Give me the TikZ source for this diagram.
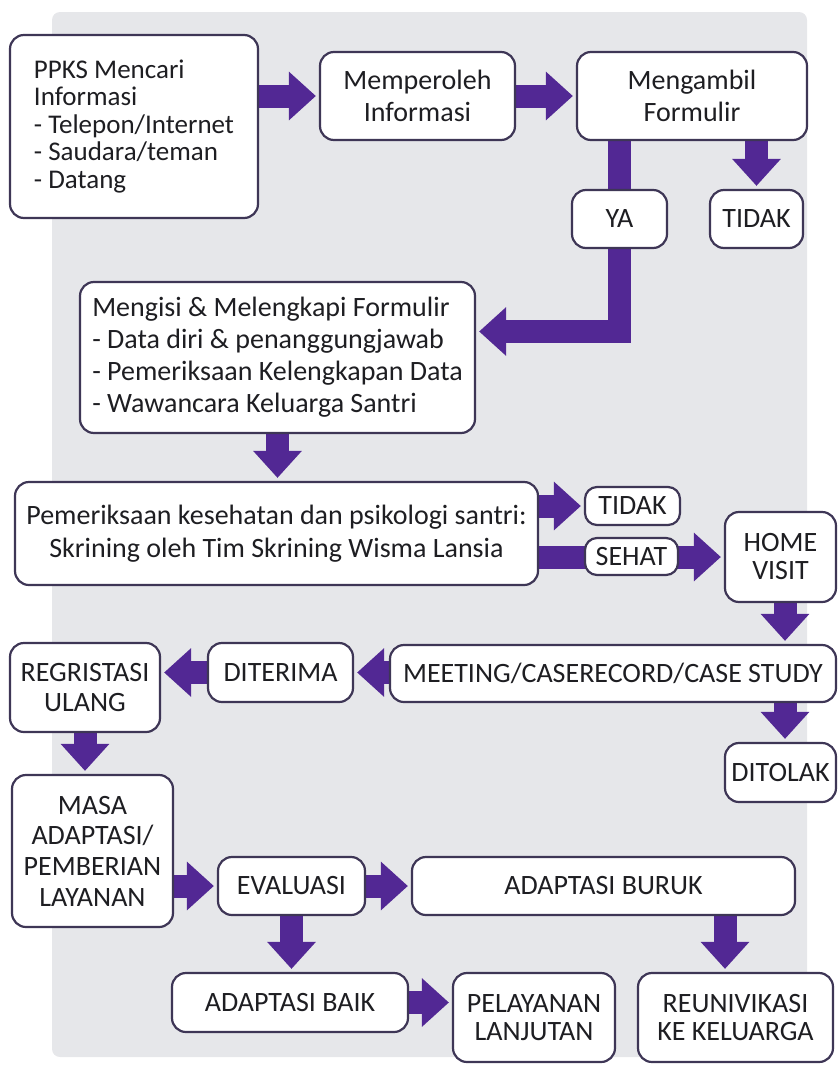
\documentclass[tikz,border=0pt]{standalone}
\usepackage{fontspec}
\setmainfont{Carlito}
\usetikzlibrary{arrows.meta,calc}
\definecolor{bgc}{RGB}{230,231,234}
\definecolor{arr}{RGB}{82,40,148}
\definecolor{boxc}{RGB}{62,54,86}
\definecolor{txt}{RGB}{30,30,34}
\pgfdeclarelayer{back}
\pgfdeclarelayer{arrl}
\pgfsetlayers{back,arrl,main}
\tikzset{
  box/.style={draw=boxc, line width=2.2pt, fill=white, rounded corners=14pt,
    inner sep=0pt, text=txt, align=center, font=\fontsize{28}{31}\selectfont},
  blk/.style={draw=arr, line width=23pt, line join=miter,
    -{Triangle[length=27pt,width=47pt]}, shorten >=3pt},
}
\begin{document}
\begin{tikzpicture}[x=1pt,y=-1pt]
\useasboundingbox (0,0) rectangle (838,1068);
\begin{pgfonlayer}{back}
\fill[bgc, rounded corners=8pt] (52,12) rectangle (807,1057);
\end{pgfonlayer}

\node[box, minimum width=248pt, minimum height=183pt, align=left,
  font=\fontsize{27}{27.5}\selectfont] (b1) at (134,126.5)
  {PPKS Mencari\\Informasi\\- Telepon/Internet\\- Saudara/teman\\- Datang};
\node[box, minimum width=195pt, minimum height=88pt, font=\fontsize{28}{32}\selectfont] (b2) at (417.5,96) {Memperoleh\\Informasi};
\node[box, minimum width=230pt, minimum height=88pt, font=\fontsize{28}{32}\selectfont] (b3) at (692,96) {Mengambil\\Formulir};
\node[box, minimum width=95pt, minimum height=58pt] (ya) at (619.5,219) {YA};
\node[box, minimum width=93pt, minimum height=58pt] (t1) at (756.5,219) {TIDAK};
\node[box, minimum width=395pt, minimum height=151pt, align=left,
  font=\fontsize{28}{32}\selectfont] (b4) at (277.5,357.5)
  {Mengisi \& Melengkapi Formulir\\- Data diri \& penanggungjawab\\- Pemeriksaan Kelengkapan Data\\- Wawancara Keluarga Santri};
\node[box, minimum width=523pt, minimum height=103pt, font=\fontsize{28}{33}\selectfont] (b5) at (276.5,533.5)
  {Pemeriksaan kesehatan dan psikologi santri:\\Skrining oleh Tim Skrining Wisma Lansia};
\node[box, minimum width=95pt, minimum height=38pt, rounded corners=12pt] (t2) at (632.5,506) {TIDAK};
\node[box, minimum width=93pt, minimum height=37pt, rounded corners=12pt] (sehat) at (631.5,556.5) {SEHAT};
\node[box, minimum width=111pt, minimum height=90pt, font=\fontsize{28}{28}\selectfont] (home) at (780.5,557) {HOME\\VISIT};
\node[box, minimum width=446pt, minimum height=57pt] (meet) at (613,673.5) {MEETING/CASERECORD/CASE STUDY};
\node[box, minimum width=145pt, minimum height=59pt] (dit) at (280.5,672.5) {DITERIMA};
\node[box, minimum width=150pt, minimum height=89pt, font=\fontsize{28}{30}\selectfont] (reg) at (85,687.5) {REGRISTASI\\ULANG};
\node[box, minimum width=111pt, minimum height=59pt] (ditolak) at (780.5,772.5) {DITOLAK};
\node[box, minimum width=161pt, minimum height=152pt, font=\fontsize{28}{30.7}\selectfont] (masa) at (92.5,851) {MASA\\ADAPTASI/\\PEMBERIAN\\LAYANAN};
\node[box, minimum width=147pt, minimum height=58pt] (eval) at (291.5,886) {EVALUASI};
\node[box, minimum width=383pt, minimum height=58pt] (buruk) at (603.5,886) {ADAPTASI BURUK};
\node[box, minimum width=236pt, minimum height=59pt] (baik) at (290,1002.5) {ADAPTASI BAIK};
\node[box, minimum width=162pt, minimum height=89pt, font=\fontsize{28}{28}\selectfont] (pel) at (534,1017.5) {PELAYANAN\\LANJUTAN};
\node[box, minimum width=195pt, minimum height=89pt, font=\fontsize{28}{28}\selectfont] (reun) at (735.5,1017.5) {REUNIVIKASI\\KE KELUARGA};

\coordinate (yc) at (619.5,331.5);
\coordinate (rx) at (725,0);
\coordinate (hx) at (785,0);
\begin{pgfonlayer}{arrl}
\draw[blk] (b1.east |- b2) -- (b2.west);
\draw[blk] (b2.east) -- (b3.west);
\draw[blk] (t1.north |- b3.south) -- (t1.north);
\draw[blk] (b3.south -| yc) -- (yc) -- (yc -| b4.east);
\draw[blk] (b4.south) -- (b4.south |- b5.north);
\draw[blk] (b5.east |- t2) -- (t2.west);
\draw[blk] (b5.east |- home) -- (home.west);
\draw[blk] (home.south -| hx) -- (meet.north -| hx);
\draw[blk] (meet.west |- dit) -- (dit.east);
\draw[blk] (dit.west) -- (reg.east |- dit);
\draw[blk] (reg.south) -- (reg.south |- masa.north);
\draw[blk] (meet.south -| hx) -- (ditolak.north -| hx);
\draw[blk] (masa.east |- eval) -- (eval.west);
\draw[blk] (eval.east) -- (buruk.west);
\draw[blk] (eval.south) -- (eval.south |- baik.north);
\draw[blk] (baik.east) -- (baik.east -| pel.west);
\draw[blk] (buruk.south -| rx) -- (reun.north -| rx);
\end{pgfonlayer}
\end{tikzpicture}
\end{document}
